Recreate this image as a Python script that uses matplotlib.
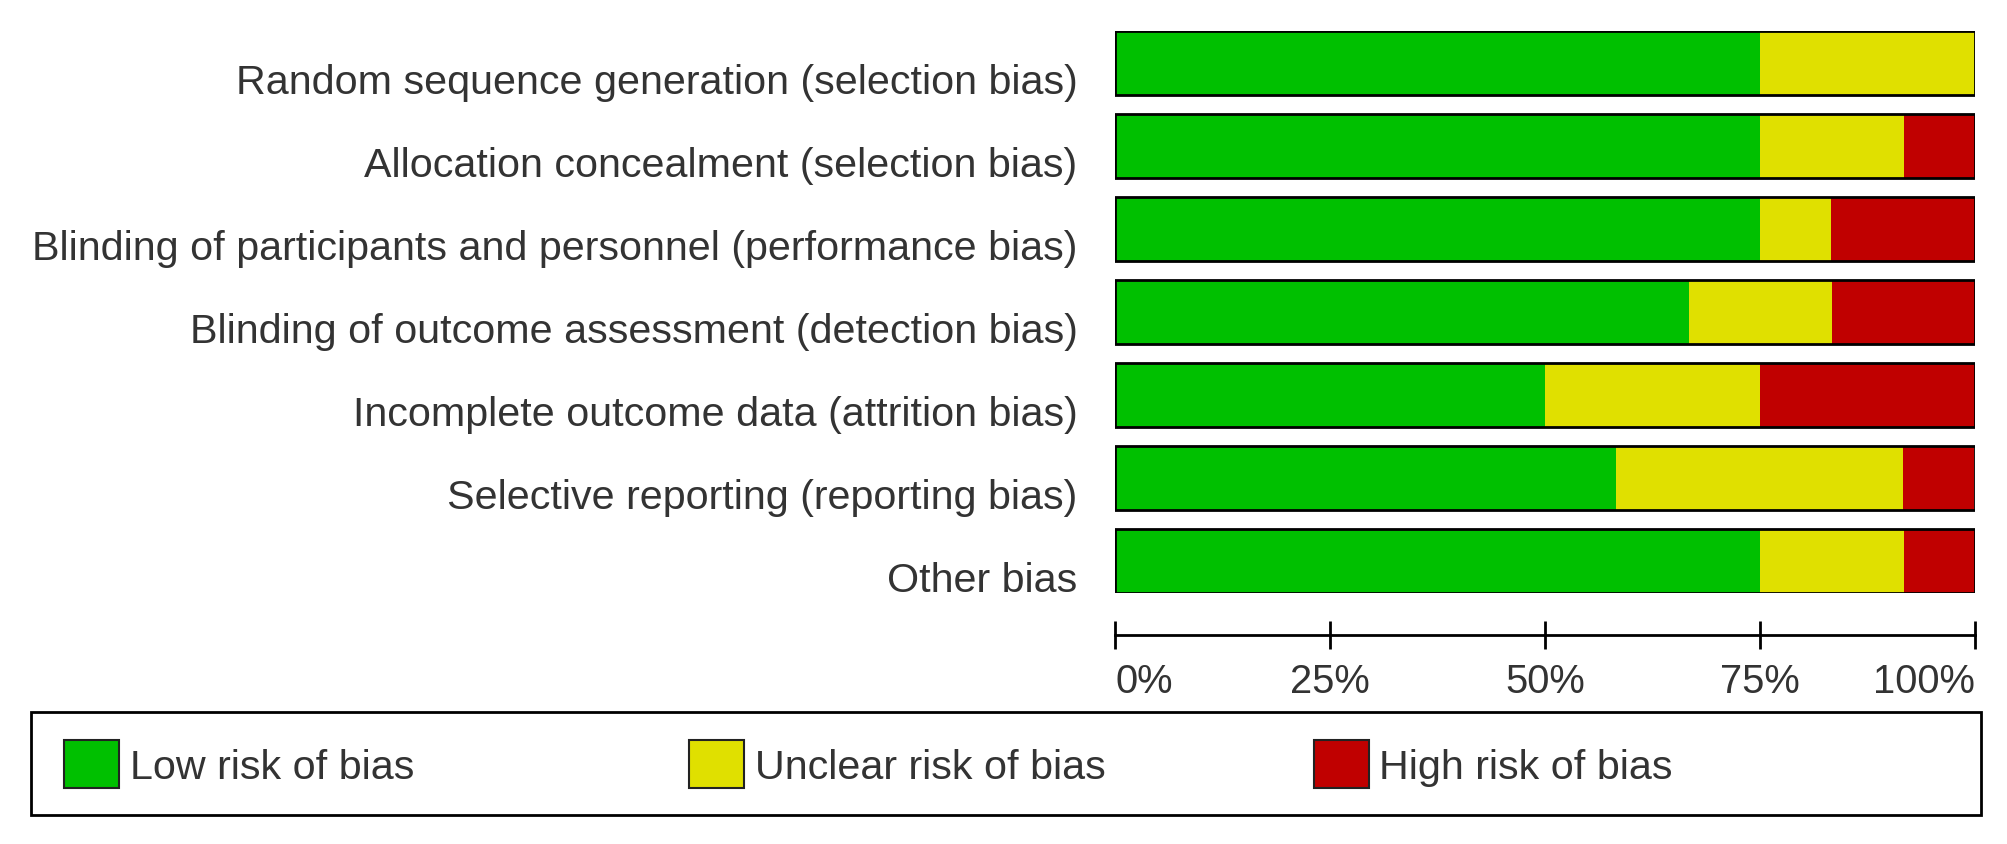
import matplotlib.pyplot as plt
from matplotlib.patches import Rectangle, Patch
from matplotlib.transforms import ScaledTranslation

plt.rcParams['font.family'] = ['Liberation Sans', 'DejaVu Sans']

# data: % of studies per risk-of-bias domain
domains = ['Random sequence generation (selection bias)',
           'Allocation concealment (selection bias)',
           'Blinding of participants and personnel (performance bias)',
           'Blinding of outcome assessment (detection bias)',
           'Incomplete outcome data (attrition bias)',
           'Selective reporting (reporting bias)',
           'Other bias']
low = [75.0, 75.0, 75.0, 66.7, 50.0, 58.3, 75.0]
unclear = [25.0, 16.7, 8.3, 16.7, 25.0, 33.3, 16.7]
high = [0.0, 8.3, 16.7, 16.7, 25.0, 8.3, 8.3]
ticks = [0, 25, 50, 75, 100]
tick_labels = ['0%', '25%', '50%', '75%', '100%']
legend_labels = ['Low risk of bias', 'Unclear risk of bias', 'High risk of bias']
colors = ['#00c000', '#e0e000', '#c00000']
txt = '#333333'
fs = 29.7

fig = plt.figure(figsize=(20.08, 8.45), dpi=100)
ax = fig.add_axes([0.5553, 0.2970, 0.4283, 0.6651])

h = 0.765
y = list(range(len(domains)))
left2 = [a + b for a, b in zip(low, unclear)]
ax.barh(y, low, height=h, color=colors[0], linewidth=0)
ax.barh(y, unclear, left=low, height=h, color=colors[1], linewidth=0)
ax.barh(y, high, left=left2, height=h, color=colors[2], linewidth=0)
# outline of each whole bar
ax.barh(y, [100] * len(y), height=h, fill=False, edgecolor='black', linewidth=2)

ax.set_xlim(0, 100)
ax.set_ylim(len(domains) - 1 + h / 2, -h / 2)
ax.set_yticks(y)
ax.set_yticklabels(domains, fontsize=fs, color=txt)
ax.tick_params(axis='y', length=0, pad=27)
shift = ScaledTranslation(0, -0.15, fig.dpi_scale_trans)
for lab in ax.get_yticklabels():
    lab.set_transform(lab.get_transform() + shift)

for s in ['top', 'right', 'left']:
    ax.spines[s].set_visible(False)
ax.spines['bottom'].set_position(('outward', 30))
ax.spines['bottom'].set_linewidth(2)
ax.set_xticks(ticks)
ax.set_xticklabels(tick_labels, fontsize=fs - 1, color=txt)
ax.tick_params(axis='x', direction='inout', length=20, width=2, pad=10)
labs = ax.get_xticklabels()
labs[0].set_horizontalalignment('left')
labs[-1].set_horizontalalignment('right')

# legend box
fig.patches.append(Rectangle((0.0154, 0.0343), 0.971, 0.1219, transform=fig.transFigure,
                             fill=False, edgecolor='black', linewidth=2))
xs = [0.0319, 0.3431, 0.6543]
for lab, c, x in zip(legend_labels, colors, xs):
    fig.legend(handles=[Patch(facecolor=c, edgecolor='#222222', linewidth=1.5, label=lab)],
               loc='center left', bbox_to_anchor=(x, 0.0947), frameon=False,
               borderpad=0, borderaxespad=0, fontsize=fs, labelcolor=txt,
               handlelength=1.34, handleheight=1.44, handletextpad=0.25)

fig.savefig('out.png', dpi=100)
